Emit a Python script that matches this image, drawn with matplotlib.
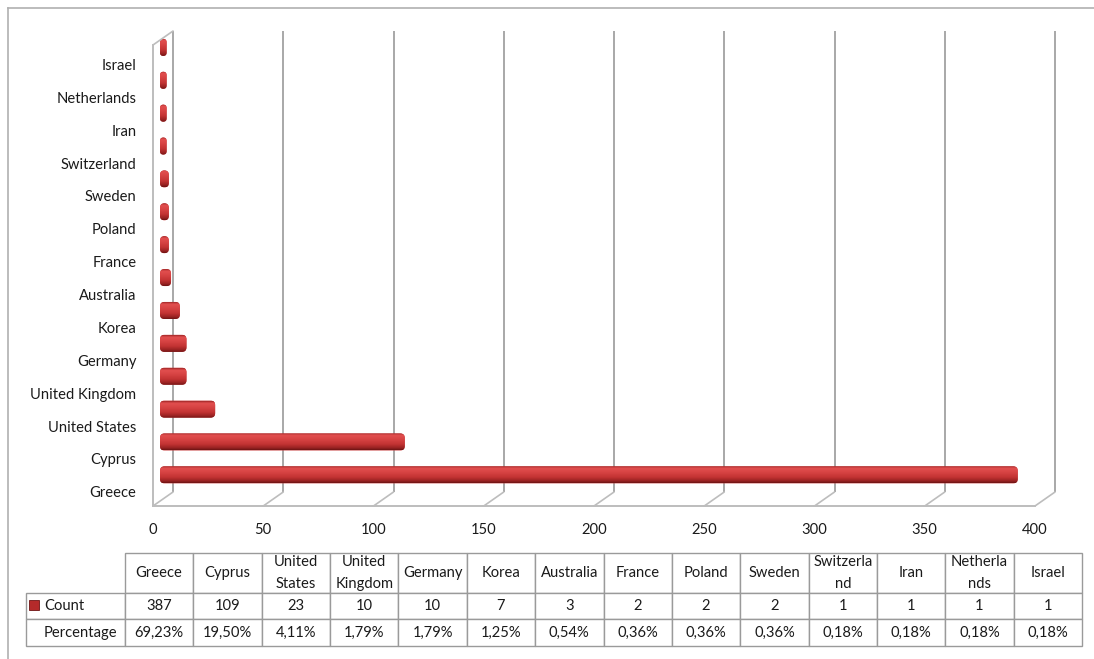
import numpy as np
import matplotlib
matplotlib.use("Agg")
import matplotlib.pyplot as plt
from matplotlib.transforms import ScaledTranslation
from matplotlib.patches import FancyBboxPatch, ConnectionPatch, Rectangle
from matplotlib.lines import Line2D
from matplotlib.colors import LinearSegmentedColormap
from matplotlib.table import Table

# ---- data ----
countries = ["Greece", "Cyprus", "United States", "United Kingdom", "Germany",
             "Korea", "Australia", "France", "Poland", "Sweden",
             "Switzerland", "Iran", "Netherlands", "Israel"]
counts = [387, 109, 23, 10, 10, 7, 3, 2, 2, 2, 1, 1, 1, 1]
percentages = ["69,23%", "19,50%", "4,11%", "1,79%", "1,79%", "1,25%", "0,54%",
               "0,36%", "0,36%", "0,36%", "0,18%", "0,18%", "0,18%", "0,18%"]
table_headers = ["Greece", "Cyprus", "United\nStates", "United\nKingdom", "Germany",
                 "Korea", "Australia", "France", "Poland", "Sweden",
                 "Switzerla\nnd", "Iran", "Netherla\nnds", "Israel"]
row_labels = ["Count", "Percentage"]
x_ticks = [0, 50, 100, 150, 200, 250, 300, 350, 400]

# ---- styling ----
W, H, DPI = 1094, 659, 100
plt.rcParams["font.family"] = ["Lato", "DejaVu Sans"]
FS = 10.6
TEXT = "#1a1a1a"
GRID = "#a8a8a8"
FLOOR = "#bdbdbd"

fig = plt.figure(figsize=(W / DPI, H / DPI), dpi=DPI, facecolor="white")


def px_box(x0, y0, x1, y1):
    """Figure-fraction rectangle from pixel edges measured from the top-left."""
    return [x0 / W, (H - y1) / H, (x1 - x0) / W, (y1 - y0) / H]


# outer chart-area border (top and left edges)
fig.add_artist(Line2D([8 / W, 8 / W], [0, (H - 8) / H], color="#b0b0b0", lw=1.2))
fig.add_artist(Line2D([8 / W, 1], [(H - 8) / H, (H - 8) / H], color="#b0b0b0", lw=1.2))

# ---- front plane: category/value axes ----
ypos = np.arange(len(countries))
y_lo, y_hi = -0.43, 13.59
ax = fig.add_axes(px_box(153, 45, 1035, 506))
ax.set_xlim(0, 400)
ax.set_ylim(y_lo, y_hi)
ax.set_facecolor("none")
for s in ax.spines.values():
    s.set_visible(False)
ax.set_xticks(x_ticks)
ax.set_yticks(ypos, countries)
ax.tick_params(length=0, labelsize=FS, labelcolor=TEXT)
ax.tick_params(axis="x", pad=12)
ax.tick_params(axis="y", pad=12)

# depth of the 3-D box: back wall sits 20 px right and 14 px up
back = ax.transData + ScaledTranslation(0.20, 0.14, fig.dpi_scale_trans)

# back-wall gridlines and floor depth lines
for t in x_ticks:
    ax.plot([t, t], [y_lo, y_hi], transform=back, color=GRID, lw=1.4,
            clip_on=False, solid_capstyle="butt")
    fig.add_artist(ConnectionPatch((t, y_lo), (t, y_lo), coordsA=ax.transData,
                                   coordsB=back, color=FLOOR, lw=1.2))

# floor front edge and left wall
ax.plot([0, 400], [y_lo, y_lo], color=FLOOR, lw=1.4, clip_on=False)
ax.plot([0, 0], [y_lo, y_hi], color=FLOOR, lw=1.4, clip_on=False)
fig.add_artist(ConnectionPatch((0, y_hi), (0, y_hi), coordsA=ax.transData,
                               coordsB=back, color=FLOOR, lw=1.2))

# ---- bar plane (mid-depth) ----
bx = fig.add_axes(px_box(160, 45 - 17, 1042, 506 - 17))
bx.set_xlim(0, 400)
bx.set_ylim(y_lo, y_hi)
bx.axis("off")

px_x = 882 / 400
px_y = 461 / (y_hi - y_lo)
aspect = px_x / px_y
bar_h = 17 / px_y
cap = 2.0  # rounded cylinder end

bar_cmap = LinearSegmentedColormap.from_list(
    "bar", [(0.0, "#a32828"), (0.12, "#e24f4f"), (0.35, "#d84444"),
            (0.65, "#c43434"), (0.88, "#992222"), (1.0, "#6c1414")])
grad = np.linspace(0, 1, 64).reshape(-1, 1)

for i, v in zip(ypos, counts):
    w = v + cap
    r = min(cap, w / 2)
    patch = FancyBboxPatch((0, i - bar_h / 2), w, bar_h,
                           boxstyle=f"round,pad=0,rounding_size={r}",
                           mutation_aspect=aspect, fc="#c43636", ec="none",
                           zorder=1)
    bx.add_patch(patch)
    im = bx.imshow(grad, extent=(0, w, i - bar_h / 2, i + bar_h / 2),
                   cmap=bar_cmap, aspect="auto", origin="upper",
                   interpolation="bilinear", zorder=2)
    im.set_clip_path(patch)
bx.set_xlim(0, 400)
bx.set_ylim(y_lo, y_hi)

# ---- data table (axes spans the value columns; row labels hang to the left) ----
tax = fig.add_axes(px_box(125, 553, 1082, 646))
tax.axis("off")
tbl = Table(tax, bbox=[0, 0, 1, 1])
col_w = 1 / len(countries)
lab_w = 99 / (1082 - 125)
row_h = [40 / 93, 26 / 93, 27 / 93]
EDGE = "#9a9a9a"

for j, head in enumerate(table_headers):
    c = tbl.add_cell(0, j, col_w, row_h[0], text=head, loc="center",
                     edgecolor=EDGE, facecolor="white")
    c.get_text().set_linespacing(1.65)
    tbl.add_cell(1, j, col_w, row_h[1], text=str(counts[j]), loc="center",
                 edgecolor=EDGE, facecolor="white")
    tbl.add_cell(2, j, col_w, row_h[2], text=percentages[j], loc="center",
                 edgecolor=EDGE, facecolor="white")
for r_i, lab in enumerate(row_labels, start=1):
    c = tbl.add_cell(r_i, -1, lab_w, row_h[r_i], text=lab, loc="left",
                     edgecolor=EDGE, facecolor="white")
    c.PAD = 0.18

tbl.auto_set_font_size(False)
tbl.set_fontsize(FS)
for cell in tbl.get_celld().values():
    cell.get_text().set_color(TEXT)
    cell.set_linewidth(1.0)
tax.add_table(tbl)

# legend key for the Count series
fig.add_artist(Rectangle((29 / W, (H - 610) / H), 10 / W, 10 / H,
                         transform=fig.transFigure, fc="#b52a2a", ec="#6e1414",
                         lw=0.6, zorder=5))

fig.savefig("out.png", dpi=DPI, facecolor="white")
